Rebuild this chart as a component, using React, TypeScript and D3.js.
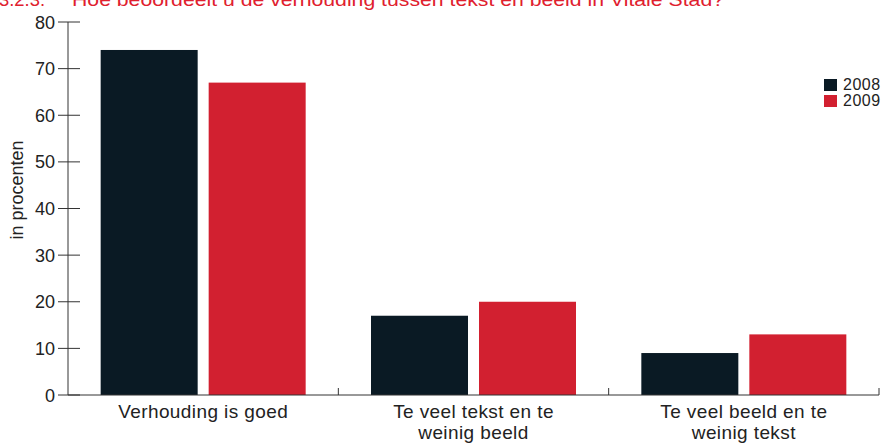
import React from "react";
import * as d3 from "d3";

const categories = [["Verhouding is goed"], ["Te veel tekst en te", "weinig beeld"], ["Te veel beeld en te", "weinig tekst"]];
const series = ["2008", "2009"];
const values2008 = [74, 17, 9];
const values2009 = [67, 20, 13];
const yTicks = [0, 10, 20, 30, 40, 50, 60, 70, 80];
const title = "Hoe beoordeelt u de verhouding tussen tekst en beeld in Vitale Stad?";
const titleNum = "3.2.3.";
const yLabel = "in procenten";

const colors = ["#0a1a24", "#d22030"];
const FONT = "'Liberation Sans', Arial, Helvetica, sans-serif";

export default function App() {
  const W = 883, H = 443;
  const x0 = 68, x1 = 879, yTop = 22, yBot = 395;
  const y = d3.scaleLinear().domain([0, 80]).range([yBot, yTop]);
  const xb = d3.scaleBand<number>().domain(categories.map((_, i) => i)).range([x0, x1]).paddingInner(0).paddingOuter(0);
  const bw = xb.bandwidth();
  const barW = 97, gap = 11;
  const data = [values2008, values2009];
  return (
    <svg width={W} height={H} style={{ position: "absolute", left: 0, top: 0, background: "#fff" }} fontFamily={FONT}>
      <text x={-1} y={6} fontSize={19} fill="#e0202e" textLength={46} lengthAdjust="spacingAndGlyphs">{titleNum}</text>
      <text x={72} y={6} fontSize={19} fill="#e0202e" textLength={652} lengthAdjust="spacingAndGlyphs">{title}</text>
      {categories.map((c, i) => {
        const cx = (xb(i) as number) + bw / 2;
        return (
          <g key={i}>
            {data.map((vals, s) => {
              const bx = cx - gap / 2 - barW + s * (barW + gap);
              return <rect key={s} x={bx} y={y(vals[i])} width={barW} height={y(0) - y(vals[i])} fill={colors[s]} />;
            })}
            {c.map((line, k) => (
              <text key={k} x={cx} y={418 + k * 21} textAnchor="middle" fontSize={19} letterSpacing={0.4} fill="#222">{line}</text>
            ))}
          </g>
        );
      })}
      <line x1={x0} x2={x0} y1={yTop} y2={yBot} stroke="#333" strokeWidth={1} />
      <line x1={x0} x2={x1} y1={yBot} y2={yBot} stroke="#333" strokeWidth={1} />
      {yTicks.map(t => (
        <g key={t}>
          <line x1={58} x2={80} y1={y(t)} y2={y(t)} stroke="#333" strokeWidth={1} />
          <text x={55} y={y(t) + 6.5} textAnchor="end" fontSize={18} fill="#222">{t}</text>
        </g>
      ))}
      {categories.map((_, i) => {
        const tx = (xb(i) as number) + bw;
        return <line key={i} x1={tx} x2={tx} y1={yBot - 7} y2={yBot} stroke="#333" strokeWidth={1} />;
      })}
      <text transform={`translate(23,${190}) rotate(-90)`} textAnchor="middle" fontSize={18} fill="#222">{yLabel}</text>
      {series.map((s, i) => (
        <g key={s}>
          <rect x={824} y={79 + i * 16} width={13} height={12} fill={colors[i]} />
          <text x={843} y={90 + i * 16} fontSize={16} letterSpacing={0.5} fill="#222">{s}</text>
        </g>
      ))}
    </svg>
  );
}
